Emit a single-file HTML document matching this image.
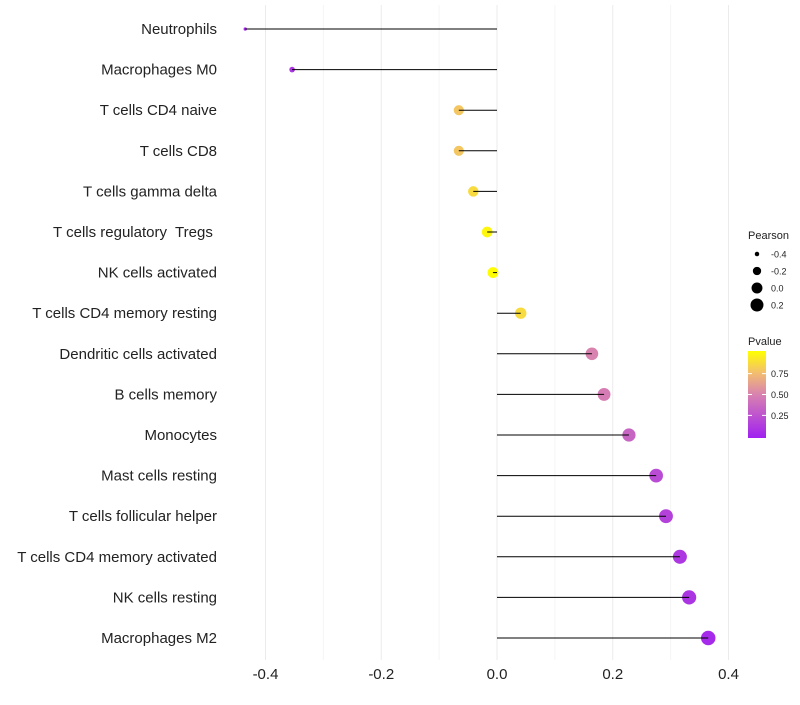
<!DOCTYPE html>
<html><head><meta charset="utf-8"><style>body{margin:0;background:#fff}svg{font-family:"Liberation Sans",sans-serif}text{white-space:pre}</style></head>
<body>
<svg id="c" width="800" height="700"></svg>
<script>
const categories=["Neutrophils","Macrophages M0","T cells CD4 naive","T cells CD8","T cells gamma delta","T cells regulatory  Tregs ","NK cells activated","T cells CD4 memory resting","Dendritic cells activated","B cells memory","Monocytes","Mast cells resting","T cells follicular helper","T cells CD4 memory activated","NK cells resting","Macrophages M2"];
const pearson=[-0.435,-0.354,-0.066,-0.066,-0.041,-0.017,-0.007,0.041,0.164,0.185,0.228,0.275,0.292,0.316,0.332,0.365];
const pvalues=[0.05,0.1,0.78,0.78,0.86,0.97,0.99,0.86,0.5,0.47,0.35,0.22,0.17,0.12,0.1,0.05];
const xTicks=[-0.4,-0.2,0,0.2,0.4];
const xMinor=[-0.3,-0.1,0.1,0.3];
const sizeBreaks=[-0.4,-0.2,0.0,0.2];
const colorBreaks=[0.25,0.5,0.75];
const svg=document.getElementById('c');const NS='http://www.w3.org/2000/svg';
function mk(t,a,p){const e=document.createElementNS(NS,t);for(const k in a)e.setAttribute(k,a[k]);(p||svg).appendChild(e);return e;}
const x=v=>497+v*578.75;
const y=i=>29+i*40.6;
const r=v=>Math.sqrt(2.5+62*Math.max(0,v+0.44));
const stops=[[0,[160,32,240]],[0.5,[216,130,176]],[0.75,[243,190,110]],[1,[255,255,0]]];
function col(p){for(let i=1;i<stops.length;i++){if(p<=stops[i][0]){const a=stops[i-1],b=stops[i],t=(p-a[0])/(b[0]-a[0]);return 'rgb('+a[1].map((c,j)=>Math.round(c+(b[1][j]-c)*t)).join(',')+')';}}return 'rgb(255,255,0)';}
xMinor.forEach(v=>{const l=mk('line',{x1:x(v),x2:x(v),y1:5,y2:660,stroke:'#f5f5f5','stroke-width':1});

});
xTicks.forEach(v=>{const l=mk('line',{x1:x(v),x2:x(v),y1:5,y2:660,stroke:'#ebebeb','stroke-width':1});


const t=mk('text',{x:x(v),y:679,'text-anchor':'middle','font-size':15,fill:'#222'});t.textContent=v===0?'0.0':v.toFixed(1);

});
categories.forEach((c,i)=>{
const t=mk('text',{x:217,y:y(i)+5,'text-anchor':'end','font-size':15,fill:'#222'});t.textContent=c;


const d=mk('circle',{cx:x(pearson[i]),cy:y(i),r:r(pearson[i]),fill:col(pvalues[i])});


const l=mk('line',{x1:x(0),x2:x(pearson[i]),y1:y(i),y2:y(i),stroke:'#000','stroke-width':1});


});
const g=mk('g',{});
const pt=mk('text',{x:748,y:239,'font-size':11,fill:'#222'},g);pt.textContent='Pearson';
sizeBreaks.forEach((v,i)=>{const cy=254+i*17;
const c=mk('circle',{cx:757,cy:cy,r:r(v),fill:'#000'},g);


const t=mk('text',{x:771,y:cy+3.5,'font-size':9,fill:'#222'},g);t.textContent=v===0?'0.0':v.toFixed(1);});
const vt=mk('text',{x:748,y:345,'font-size':11,fill:'#222'},g);vt.textContent='Pvalue';
const defs=mk('defs',{});const lg=mk('linearGradient',{id:'pg',x1:0,y1:1,x2:0,y2:0},defs);
stops.forEach(s=>mk('stop',{offset:s[0],'stop-color':col(s[0])},lg));
const bar=mk('rect',{x:748,y:351,width:18,height:87,fill:'url(#pg)'},g);

const cb0=351+87*0.98,cb1=351+87*0.02;
colorBreaks.forEach(v=>{const yy=cb0+(cb1-cb0)*v;
mk('line',{x1:748,x2:752,y1:yy,y2:yy,stroke:'#fff'},g);mk('line',{x1:762,x2:766,y1:yy,y2:yy,stroke:'#fff'},g);
const t=mk('text',{x:771,y:yy+3.5,'font-size':9,fill:'#222'},g);t.textContent=v.toFixed(2);});
</script>
</body></html>
